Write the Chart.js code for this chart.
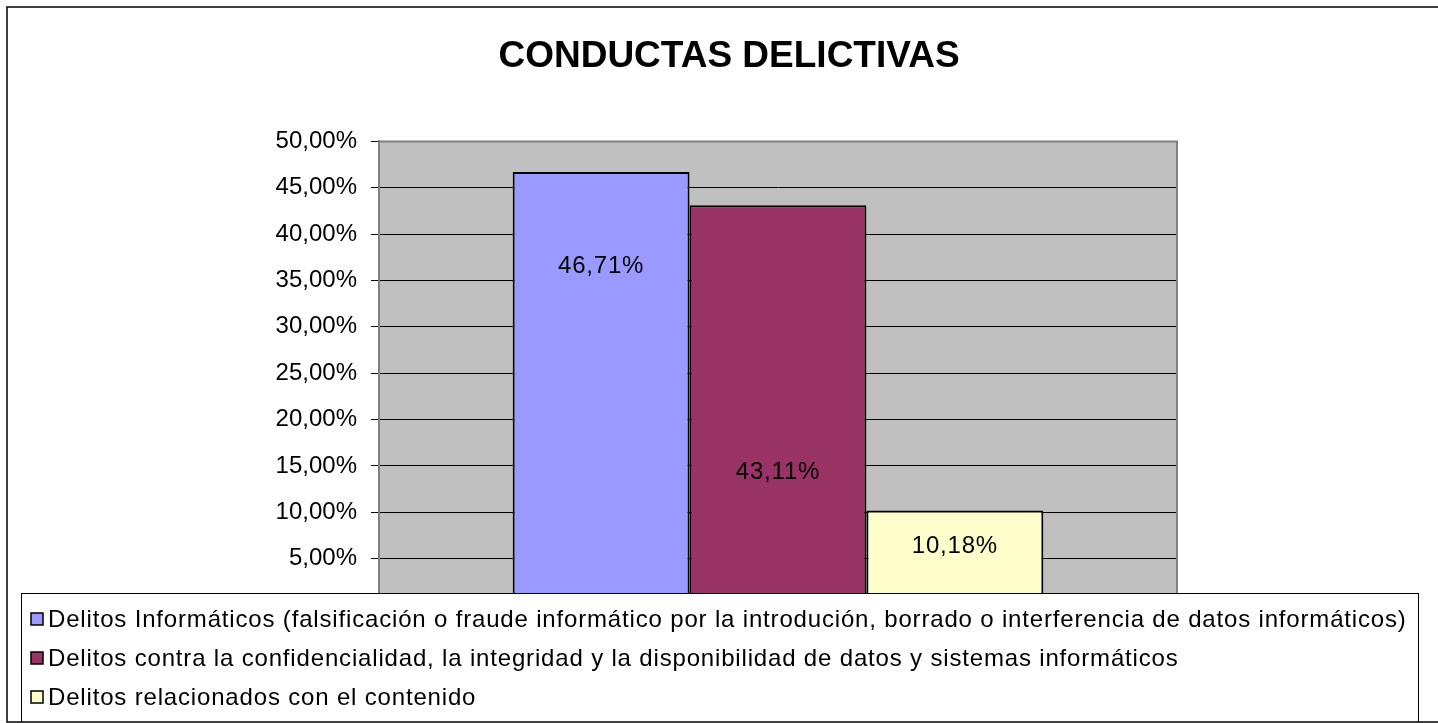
<!DOCTYPE html>
<html>
<head>
<meta charset="utf-8">
<script src="https://cdn.jsdelivr.net/npm/chart.js@4.4.0/dist/chart.umd.min.js"></script>
<style>
  html, body { margin: 0; padding: 0; background: #fff; }
  #wrap { width: 1438px; height: 723px; position: relative; }
</style>
</head>
<body>
<div id="wrap"><canvas id="chart" width="1438" height="723"></canvas></div>
<script>
// Data
const categories = ['Conductas delictivas'];
const seriesNames = [
    'Delitos Informáticos (falsificación o fraude informático por la introdución, borrado o interferencia de datos informáticos)',
    'Delitos contra la confidencialidad, la integridad y la disponibilidad de datos y sistemas informáticos',
    'Delitos relacionados con el contenido'
];
const seriesValues = [46.71, 43.11, 10.18];
const seriesColors = ['#9999FF', '#993366', '#FFFFCC'];
const yMin = 0, yMax = 50, yStep = 5;

const FONT = '"Liberation Sans", Arial, sans-serif';

function fmtPct(v) {
    return v.toFixed(2).replace('.', ',') + '%';
}

// plot background + frame
const framePlugin = {
    id: 'frame',
    beforeDraw(chart) {
        const { ctx, chartArea: a } = chart;
        ctx.save();
        ctx.fillStyle = '#fff';
        ctx.fillRect(0, 0, chart.width, chart.height);
        ctx.fillStyle = '#C0C0C0';
        ctx.fillRect(a.left, a.top, a.right - a.left, a.bottom - a.top);
        ctx.restore();
    },
    afterDatasetsDraw(chart) {
        const { ctx, chartArea: a } = chart;
        ctx.save();
        ctx.strokeStyle = '#808080';
        ctx.lineWidth = 2;
        ctx.beginPath();
        ctx.moveTo(a.left, a.top);
        ctx.lineTo(a.right, a.top);
        ctx.lineTo(a.right, a.bottom);
        ctx.stroke();
        ctx.restore();
    }
};

// value labels inside the bars
const labelPlugin = {
    id: 'barLabels',
    afterDatasetsDraw(chart, args, opts) {
        const { ctx } = chart;
        const y = chart.scales.y;
        ctx.save();
        ctx.font = '24px ' + FONT;
        ctx.letterSpacing = '0.8px';
        ctx.fillStyle = '#000';
        ctx.textAlign = 'center';
        ctx.textBaseline = 'middle';
        chart.data.datasets.forEach((ds, i) => {
            const bar = chart.getDatasetMeta(i).data[0];
            ctx.fillText(fmtPct(ds.data[0]), bar.x, y.getPixelForValue(opts.at[i]));
        });
        ctx.restore();
    }
};

// legend box drawn over the bottom of the plot, plus outer border
const legendBoxPlugin = {
    id: 'legendBox',
    afterDraw(chart, args, opts) {
        const { ctx } = chart;
        const b = opts.box;
        ctx.save();
        ctx.fillStyle = '#fff';
        ctx.fillRect(b.x, b.y, b.w, b.h);
        ctx.strokeStyle = '#000';
        ctx.lineWidth = 1;
        ctx.strokeRect(b.x + 0.5, b.y + 0.5, b.w, b.h);
        ctx.font = '24px ' + FONT;
        ctx.letterSpacing = '0.83px';
        ctx.textBaseline = 'middle';
        chart.data.datasets.forEach((ds, i) => {
            const cy = b.y + opts.rowStart + i * opts.rowGap;
            ctx.fillStyle = ds.backgroundColor;
            ctx.fillRect(b.x + 10, cy - 6, 12, 12);
            ctx.strokeStyle = '#000';
            ctx.lineWidth = 1.5;
            ctx.strokeRect(b.x + 10, cy - 6, 12, 12);
            ctx.fillStyle = '#000';
            ctx.fillText(ds.label, b.x + 27, cy + 1);
        });
        // outer chart border
        ctx.strokeStyle = '#000';
        ctx.lineWidth = 1.5;
        ctx.strokeRect(7, 7, chart.width + 20, chart.height - 8);
        ctx.restore();
    }
};

const ctx = document.getElementById('chart').getContext('2d');
new Chart(ctx, {
    type: 'bar',
    data: {
        labels: categories,
        datasets: seriesNames.map((name, i) => ({
            label: name,
            data: [seriesValues[i]],
            backgroundColor: seriesColors[i],
            borderColor: '#000',
            borderWidth: 2,
            borderSkipped: 'bottom'
        }))
    },
    options: {
        responsive: false,
        animation: false,
        events: [],
        layout: { padding: { left: 20, right: 0, top: 0, bottom: 118 } },
        datasets: { bar: { categoryPercentage: 0.665, barPercentage: 1.0 } },
        scales: {
            x: { display: false },
            y: {
                min: yMin,
                max: yMax,
                afterFit(scale) { scale.width = 359; },
                ticks: {
                    stepSize: yStep,
                    padding: 14,
                    color: '#000',
                    font: { family: FONT, size: 24 },
                    callback: v => fmtPct(v)
                },
                grid: {
                    color: ctx => ctx.tick && ctx.tick.value === yMax ? 'rgba(0,0,0,0)' : '#000',
                    tickColor: '#000',
                    tickLength: 8,
                    lineWidth: 1
                },
                border: { color: '#808080', width: 2 }
            },
            yRight: {
                position: 'right',
                min: yMin,
                max: yMax,
                afterFit(scale) { scale.width = 261; },
                ticks: { display: false },
                grid: { display: false },
                border: { display: false }
            }
        },
        plugins: {
            legend: { display: false },
            tooltip: { enabled: false },
            title: {
                display: true,
                text: 'CONDUCTAS DELICTIVAS',
                color: '#000',
                font: { family: FONT, size: 37, weight: 'bold', lineHeight: 1.2 },
                padding: { top: 35, bottom: 62 }
            },
            barLabels: { at: [36.5, 14.3, 6.3] },
            legendBox: {
                box: { x: 21, y: 593, w: 1397, h: 140 },
                rowStart: 26,
                rowGap: 39
            }
        }
    },
    plugins: [framePlugin, labelPlugin, legendBoxPlugin]
});
</script>
</body>
</html>
